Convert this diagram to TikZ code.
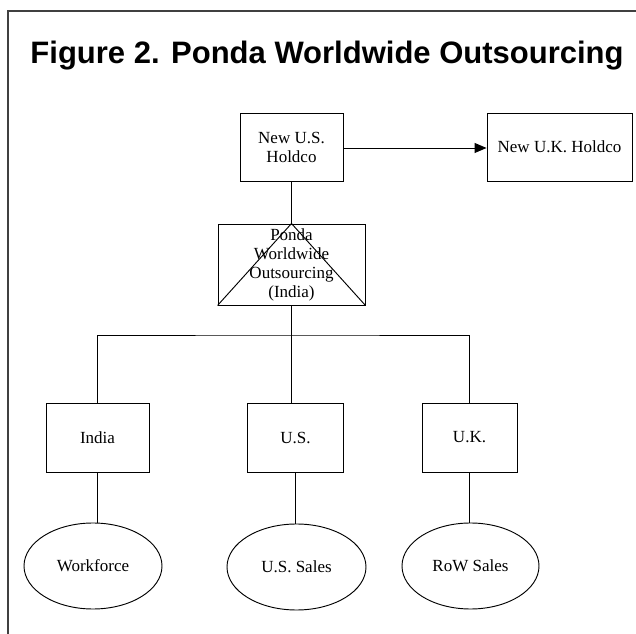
\documentclass[tikz,border=0pt]{standalone}
\usepackage{fontspec}
\setmainfont{Liberation Serif}
\newfontfamily\titlefont{Liberation Sans}
\usetikzlibrary{shapes.geometric,arrows.meta}

\tikzset{
  entity/.style={draw, line width=0.7pt, rectangle, inner sep=0pt, align=center,
    font=\fontsize{12.75pt}{14.25pt}\selectfont},
  market/.style={draw, line width=0.7pt, ellipse, inner sep=0pt,
    minimum height=64.5pt, font=\fontsize{12.75pt}{14.25pt}\selectfont},
  link/.style={line width=0.7pt},
  frameline/.style={line width=0.9pt, black!75}
}

\begin{document}
\begin{tikzpicture}[x=0.75pt, y=-0.75pt]
  \useasboundingbox (0,0) rectangle (636,634);

  % outer frame (top and left edges)
  \draw[frameline] (8,634) -- (8,11) -- (636,11);

  % heading
  \node[anchor=base, inner sep=0pt, font=\titlefont\bfseries\fontsize{23.25pt}{28pt}\selectfont]
    (title) at (327,64) {Figure 2. Ponda Worldwide Outsourcing};

  % holding companies
  \node[entity, minimum width=77.25pt, minimum height=51pt] (ush) at (291.5,147) {New U.S.\\Holdco};
  \node[entity, minimum width=108.75pt, minimum height=51pt] (ukh) at (559.5,147) {New U.K. Holdco};

  % Indian parent, drawn with a triangle inside its box
  \node[entity, minimum width=110.25pt, minimum height=60.75pt] (ponda) at (291.5,264.5)
    {Ponda\\Worldwide\\Outsourcing\\(India)};
  \draw[link] (ponda.south west) -- (ponda.north) -- (ponda.south east);

  % country subsidiaries
  \node[entity, minimum width=77.25pt, minimum height=51.75pt] (india) at (97.5,437.5) {India};
  \node[entity, minimum width=72pt, minimum height=51.75pt] (us) at (295.5,437.5) {U.S.};
  \node[entity, minimum width=71.25pt, minimum height=51.75pt] (uk) at (469.5,437.5) {U.K.};

  % operations
  \node[market, minimum width=103.5pt] (wf) at (93,566) {Workforce};
  \node[market, minimum width=104.25pt] (ussales) at (296.5,567) {U.S. Sales};
  \node[market, minimum width=102.75pt] (row) at (470.5,566) {RoW Sales};

  % connectors
  \draw[link] (ush.south) -- (ponda.north);
  \draw[link, -{Triangle[length=9pt, width=7.5pt]}] (ush.east |- 0,148) -- (ukh.west |- 0,148);

  \coordinate (bus) at (ponda.south |- 0,335);
  \draw[link] (ponda.south) -- (bus);
  \draw[link] (india.north) |- (bus) -| (uk.north);
  \draw[link] (bus) -- (bus |- us.north);

  \draw[link] (india.south) -- (india.south |- wf.north);
  \draw[link] (us.south) -- (us.south |- ussales.north);
  \draw[link] (uk.south) -- (uk.south |- row.north);
\end{tikzpicture}
\end{document}
